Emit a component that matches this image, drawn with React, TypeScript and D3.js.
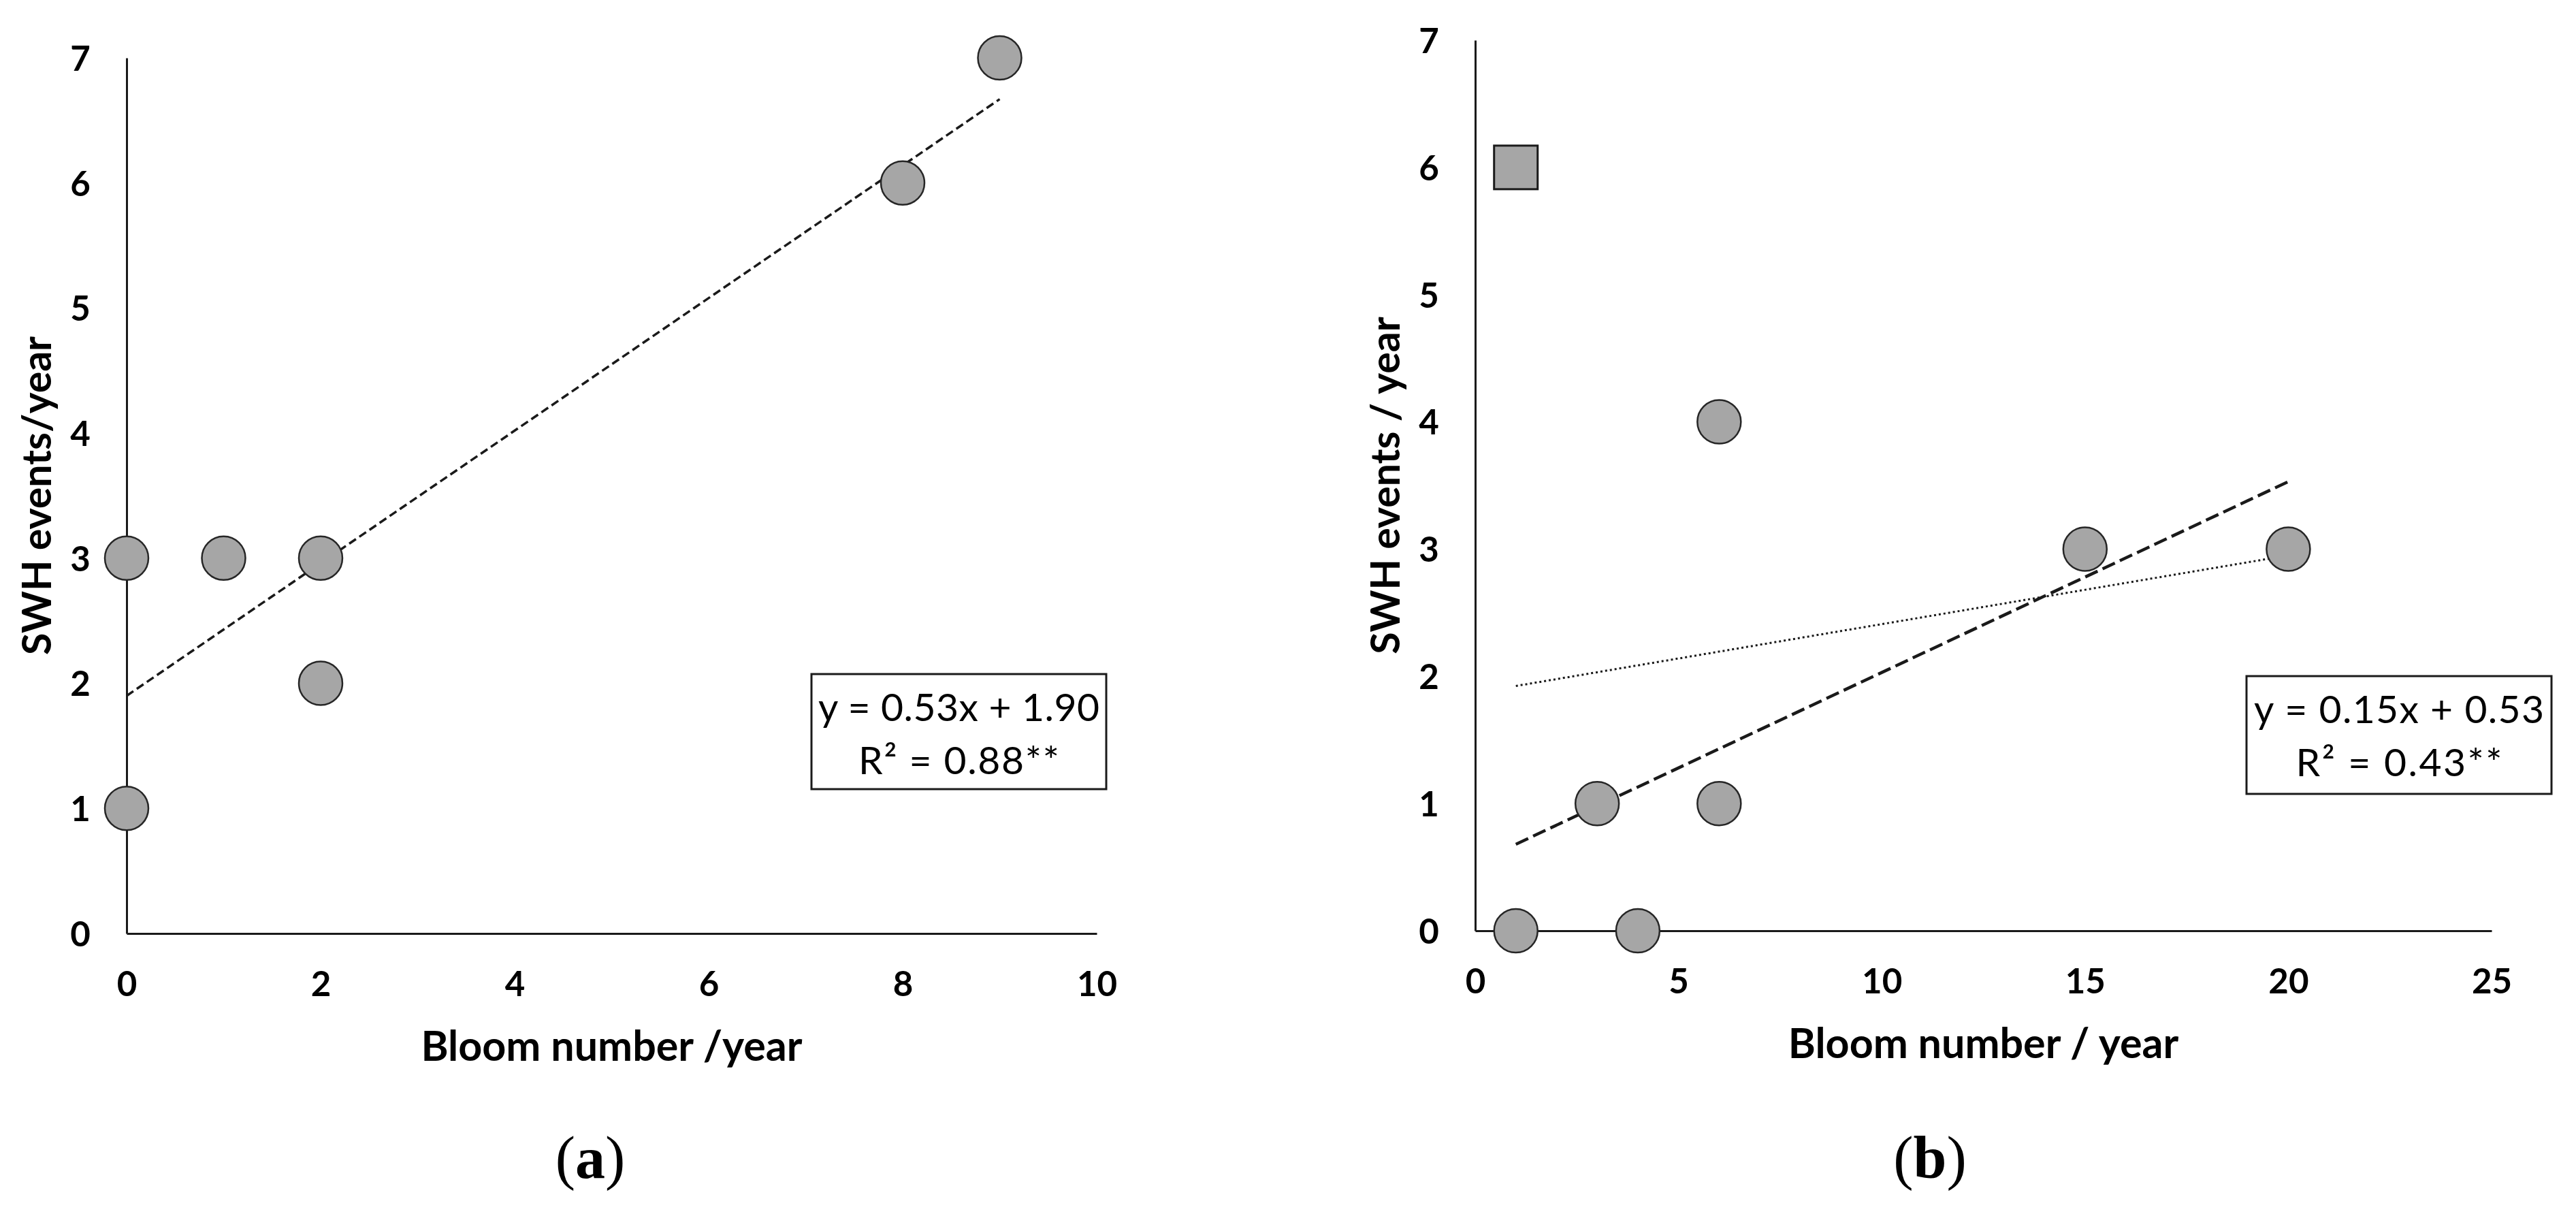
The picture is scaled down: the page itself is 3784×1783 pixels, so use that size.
import React, { useRef, useEffect } from "react";
import * as d3 from "d3";

const W = 3784;
const H = 1783;

// panel (a)
const bloomA = [0, 1, 2, 2, 0, 8, 9];
const swhA = [3, 3, 3, 2, 1, 6, 7];

// panel (b)
const bloomB = [1, 4, 3, 6, 6, 15, 20];
const swhB = [0, 0, 1, 1, 4, 3, 3];
const bloomBOutlier = [1];
const swhBOutlier = [6];

const xTicksA = [0, 2, 4, 6, 8, 10];
const xTicksB = [0, 5, 10, 15, 20, 25];
const yTicks = [0, 1, 2, 3, 4, 5, 6, 7];

// trend lines
const fitA = { slope: 0.53, intercept: 1.9, from: 0, to: 9 };
const fitB = { slope: 0.15, intercept: 0.53, from: 1, to: 20 };
const fitBAll = { slope: 0.054, intercept: 1.87, from: 1, to: 20 };

const eqA = ["y = 0.53x + 1.90", "R² = 0.88**"];
const eqB = ["y = 0.15x + 0.53", "R² = 0.43**"];

const SANS = "Lato, 'Open Sans', sans-serif";
const SERIF = "'Liberation Serif', 'DejaVu Serif', serif";
const INK = "#1a1a1a";
const FILL = "#a6a6a6";

type Fit = { slope: number; intercept: number; from: number; to: number };

interface PanelOpts {
  left: number;
  right: number;
  top: number;
  bottom: number;
  xMax: number;
  xTicks: number[];
  xs: number[];
  ys: number[];
  squareXs?: number[];
  squareYs?: number[];
  fits: { fit: Fit; dash: string; width: number }[];
  xTitle: string;
  yTitle: string;
  box: { x: number; y: number; w: number; h: number; lines: string[]; widths: number[] };
  caption: string;
  captionX: number;
}

const drawPanel = (root: d3.Selection<SVGGElement, unknown, null, undefined>, o: PanelOpts) => {
  const g = root.append("g");
  const x = d3.scaleLinear().domain([0, o.xMax]).range([o.left, o.right]);
  const y = d3.scaleLinear().domain([0, 7]).range([o.bottom, o.top]);
  const fmt = d3.format("d");

  // x axis
  const xa = g
    .append("g")
    .attr("transform", `translate(0,${o.bottom})`)
    .call(d3.axisBottom(x).tickValues(o.xTicks).tickFormat((d) => fmt(d as number)).tickSize(0).tickSizeOuter(0));
  xa.attr("font-family", SANS).attr("font-size", 51).attr("font-weight", 700);
  xa.select(".domain").attr("stroke", INK).attr("stroke-width", 3);
  xa.selectAll("text").attr("y", 92).attr("dy", null).attr("fill", "#000");

  // y axis
  const ya = g
    .append("g")
    .attr("transform", `translate(${o.left},0)`)
    .call(d3.axisLeft(y).tickValues(yTicks).tickFormat((d) => fmt(d as number)).tickSize(0).tickSizeOuter(0));
  ya.attr("font-family", SANS).attr("font-size", 51).attr("font-weight", 700);
  ya.select(".domain").attr("stroke", INK).attr("stroke-width", 3);
  ya.selectAll("text")
    .attr("x", -68)
    .attr("text-anchor", "middle")
    .attr("dy", "0.36em")
    .attr("fill", "#000");

  // trend lines
  const line = d3
    .line<[number, number]>()
    .x((d) => x(d[0]))
    .y((d) => y(d[1]));
  o.fits.forEach(({ fit, dash, width }) => {
    const pts: [number, number][] = [fit.from, fit.to].map((v) => [v, fit.slope * v + fit.intercept]);
    g.append("path")
      .attr("d", line(pts))
      .attr("fill", "none")
      .attr("stroke", INK)
      .attr("stroke-width", width)
      .attr("stroke-dasharray", dash);
  });

  // points
  g.selectAll("circle.pt")
    .data(o.xs.map((v, i) => [v, o.ys[i]]))
    .enter()
    .append("circle")
    .attr("class", "pt")
    .attr("cx", (d) => x(d[0]))
    .attr("cy", (d) => y(d[1]))
    .attr("r", 32)
    .attr("fill", FILL)
    .attr("stroke", "#262626")
    .attr("stroke-width", 2.5);

  if (o.squareXs && o.squareYs) {
    const s = 64;
    g.selectAll("rect.sq")
      .data(o.squareXs.map((v, i) => [v, o.squareYs![i]]))
      .enter()
      .append("rect")
      .attr("class", "sq")
      .attr("x", (d) => x(d[0]) - s / 2)
      .attr("y", (d) => y(d[1]) - s / 2)
      .attr("width", s)
      .attr("height", s)
      .attr("fill", FILL)
      .attr("stroke", "#1a1a1a")
      .attr("stroke-width", 3);
  }

  // equation box
  const b = o.box;
  g.append("rect")
    .attr("x", b.x)
    .attr("y", b.y)
    .attr("width", b.w)
    .attr("height", b.h)
    .attr("fill", "#fff")
    .attr("stroke", INK)
    .attr("stroke-width", 3);
  b.lines.forEach((t, i) => {
    g.append("text")
      .attr("x", b.x + b.w / 2)
      .attr("y", b.y + 69 + i * 78)
      .attr("text-anchor", "middle")
      .attr("font-family", SANS)
      .attr("font-size", 57)
      .attr("textLength", b.widths[i])
      .attr("lengthAdjust", "spacing")
      .attr("fill", "#000")
      .text(t);
  });

  // axis titles
  g.append("text")
    .attr("x", (o.left + o.right) / 2)
    .attr("y", o.bottom + 187)
    .attr("text-anchor", "middle")
    .attr("font-family", SANS)
    .attr("font-size", 61)
    .attr("font-weight", 700)
    .text(o.xTitle);

  g.append("text")
    .attr("transform", `translate(${o.left - 111},${(o.top + o.bottom) / 2}) rotate(-90)`)
    .attr("text-anchor", "middle")
    .attr("font-family", SANS)
    .attr("font-size", 59)
    .attr("font-weight", 700)
    .text(o.yTitle);

  // caption
  const cap = g
    .append("text")
    .attr("x", o.captionX)
    .attr("y", 1730)
    .attr("text-anchor", "middle")
    .attr("font-family", SERIF)
    .attr("font-size", 88);
  cap.append("tspan").text("(");
  cap.append("tspan").attr("font-weight", 700).text(o.caption);
  cap.append("tspan").text(")");
};

const App: React.FC = () => {
  const svgRef = useRef<SVGSVGElement | null>(null);

  useEffect(() => {
    const svg = d3.select(svgRef.current);
    svg.selectAll("*").remove();
    const root = svg.append("g");

    drawPanel(root, {
      left: 186,
      right: 1611,
      top: 85,
      bottom: 1371,
      xMax: 10,
      xTicks: xTicksA,
      xs: bloomA,
      ys: swhA,
      fits: [{ fit: fitA, dash: "12,6", width: 3.5 }],
      xTitle: "Bloom number /year",
      yTitle: "SWH events/year",
      box: { x: 1192, y: 990, w: 433, h: 169, lines: eqA, widths: [413, 295] },
      caption: "a",
      captionX: 867,
    });

    drawPanel(root, {
      left: 2167,
      right: 3660,
      top: 59,
      bottom: 1367,
      xMax: 25,
      xTicks: xTicksB,
      xs: bloomB,
      ys: swhB,
      squareXs: bloomBOutlier,
      squareYs: swhBOutlier,
      fits: [
        { fit: fitBAll, dash: "3,4", width: 3 },
        { fit: fitB, dash: "20,8", width: 4.5 },
      ],
      xTitle: "Bloom number / year",
      yTitle: "SWH events / year",
      box: { x: 3300, y: 993, w: 448, h: 173, lines: eqB, widths: [426, 303] },
      caption: "b",
      captionX: 2835,
    });
  }, []);

  return (
    <svg
      ref={svgRef}
      width={W}
      height={H}
      style={{ position: "absolute", left: 0, top: 0, background: "#fff" }}
    />
  );
};

export default App;
